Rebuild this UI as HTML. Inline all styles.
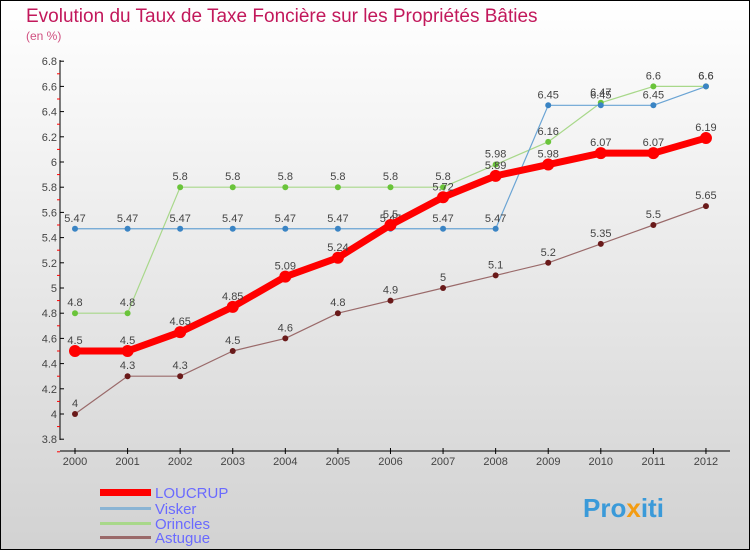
<!DOCTYPE html>
<html><head><meta charset="utf-8"><style>
body{margin:0}
#c{width:750px;height:550px;position:relative;box-sizing:border-box;border:1px solid #000;background:linear-gradient(#fff,#d2d2d2);font-family:"Liberation Sans",sans-serif;overflow:hidden}
</style></head><body>
<div id="c">
<svg id="s" width="750" height="550" style="position:absolute;left:-1px;top:-1px">
<text x="26" y="22" font-size="19" fill="#c2185b">Evolution du Taux de Taxe Foncière sur les Propriétés Bâties</text>
<text x="26" y="40" font-size="12" fill="#d05080">(en %)</text>
<g id="ax"></g><g id="series"></g>
<g>
<rect x="100" y="489" width="51" height="7" fill="#f00"/>
<text x="155" y="498" font-size="15" fill="#6a6aff">LOUCRUP</text>
<rect x="100" y="507" width="51" height="3" fill="#8ab4d4"/>
<text x="155" y="514" font-size="15" fill="#6a6aff">Visker</text>
<rect x="100" y="522" width="51" height="3" fill="#a8d88a"/>
<text x="155" y="529" font-size="15" fill="#6a6aff">Orincles</text>
<rect x="100" y="536" width="51" height="3" fill="#9a6a6a"/>
<text x="155" y="543" font-size="15" fill="#6a6aff">Astugue</text>
</g>
<text x="583" y="517" font-size="26" font-weight="bold" fill="#3a9ad9">Pro<tspan fill="#f39c12">x</tspan>iti</text>
</svg>
</div>
<script>
const years=[2000,2001,2002,2003,2004,2005,2006,2007,2008,2009,2010,2011,2012];
const loucrup=[4.5,4.5,4.65,4.85,5.09,5.24,5.5,5.72,5.89,5.98,6.07,6.07,6.19];
const visker=[5.47,5.47,5.47,5.47,5.47,5.47,5.47,5.47,5.47,6.45,6.45,6.45,6.6];
const orincles=[4.8,4.8,5.8,5.8,5.8,5.8,5.8,5.8,5.98,6.16,6.47,6.6,6.6];
const astugue=[4,4.3,4.3,4.5,4.6,4.8,4.9,5,5.1,5.2,5.35,5.5,5.65];
const yTicks=["3.8","4","4.2","4.4","4.6","4.8","5","5.2","5.4","5.6","5.8","6","6.2","6.4","6.6","6.8"];
const NS="http://www.w3.org/2000/svg";
const X=i=>75+i*52.58, Y=v=>439.2-(v-3.8)*126;
function mk(t,a,p){const e=document.createElementNS(NS,t);for(const k in a)e.setAttribute(k,a[k]);p.appendChild(e);return e;}
const ax=document.getElementById('ax');
let l=mk('line',{x1:60,y1:60,x2:60,y2:440,stroke:'#000'},ax);


l=mk('line',{x1:60,y1:451,x2:730,y2:451,stroke:'#000'},ax);


yTicks.forEach(t=>{const y=Y(+t);
 mk('line',{x1:60,y1:y,x2:64,y2:y,stroke:'#000'},ax);
 mk('line',{x1:57,y1:y+12.6,x2:60,y2:y+12.6,stroke:'#f00'},ax);
 const e=mk('text',{x:57,y:y+4,'font-size':11,'text-anchor':'end',fill:'#444'},ax);e.textContent=t;
 
 });
years.forEach((yr,i)=>{const x=X(i);
 mk('line',{x1:x,y1:448,x2:x,y2:454,stroke:'#000'},ax);
 const e=mk('text',{x:x,y:465,'font-size':11,'text-anchor':'middle',fill:'#444'},ax);e.textContent=yr;
 
 });
const sg=document.getElementById('series');
function draw(data,name,color,w,r,dot){
 const g=mk('g',{},sg);
 
 
 mk('polyline',{points:data.map((v,i)=>X(i)+','+Y(v)).join(' '),fill:'none',stroke:color,'stroke-width':w,'stroke-linejoin':'round'},g);
 data.forEach((v,i)=>{const c=mk('circle',{cx:X(i),cy:Y(v),r:r,fill:dot},g);
  
  
  const t=mk('text',{x:X(i),y:Y(v)-7,'font-size':11,'text-anchor':'middle',fill:'#444'},g);t.textContent=String(v);
  
  });
}
draw(astugue,'astugue','#9a6a6a',1.2,3,'#6a1a1a');
draw(orincles,'orincles','#a8d88a',1.2,3,'#6ac43a');
draw(visker,'visker','#6aa4d4',1.2,3,'#3a84c4');
draw(loucrup,'loucrup','#f00',7,6,'#f00');
</script>
</body></html>
